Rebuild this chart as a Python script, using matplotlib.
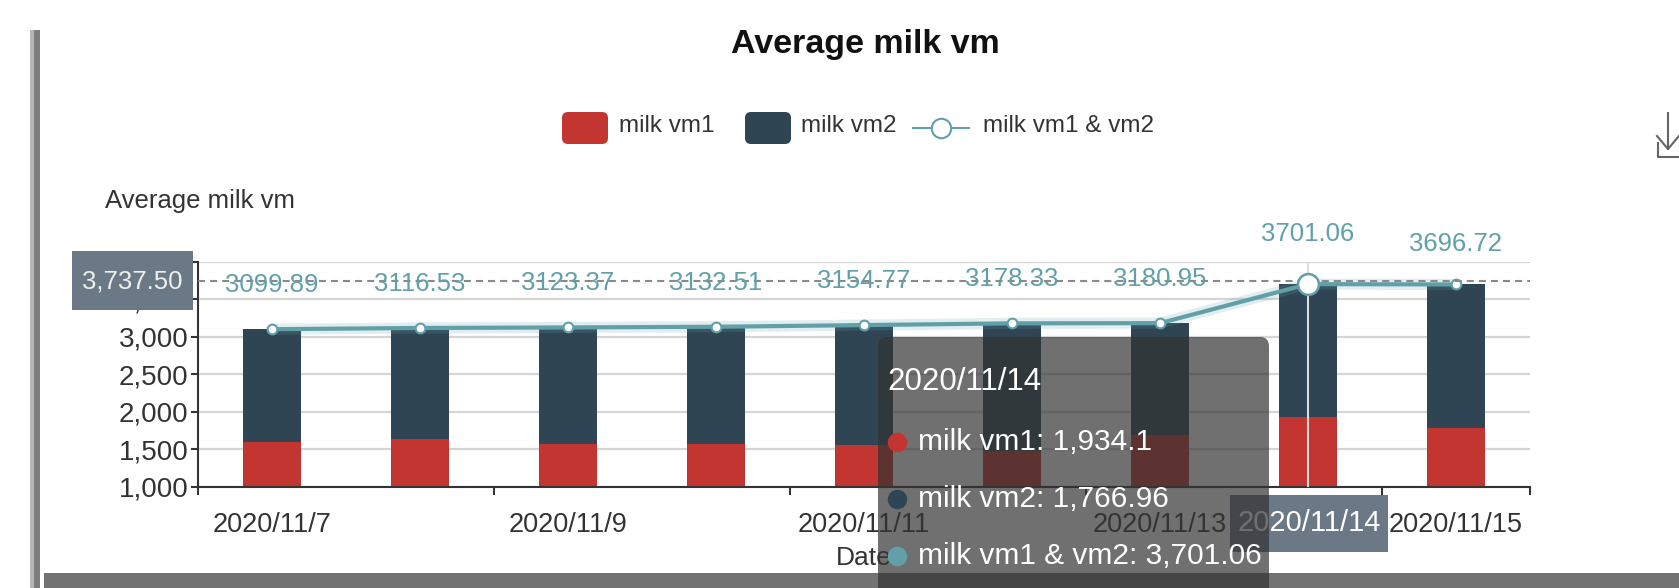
import matplotlib.pyplot as plt
from matplotlib.patches import Rectangle, FancyBboxPatch
import numpy as np

# ---- data ----
dates = ['2020/11/7', '2020/11/8', '2020/11/9', '2020/11/10', '2020/11/11',
         '2020/11/12', '2020/11/13', '2020/11/14', '2020/11/15']
vm1 = [1595.0, 1635.0, 1575.0, 1565.0, 1555.0, 1470.0, 1690.0, 1934.10, 1778.0]
vm2 = [1504.89, 1481.53, 1548.37, 1567.51, 1599.77, 1708.33, 1490.95, 1766.96, 1918.72]
total = [3099.89, 3116.53, 3123.37, 3132.51, 3154.77, 3178.33, 3180.95, 3701.06, 3696.72]
yticks = [1000, 1500, 2000, 2500, 3000, 3500, 4000]
hover_idx = 7          # 2020/11/14 is under the mouse
hover_y = 3737.50      # y value of the cross pointer

RED, DARK, TEAL = '#c23531', '#2f4554', '#61a0a8'
POINTER = '#6a7985'

plt.rcParams['font.family'] = ['Liberation Sans', 'DejaVu Sans']

W, H = 1679, 588
fig = plt.figure(figsize=(W / 100, H / 100), dpi=100)

# main plot area (pixel box 198..1530 x 262..487)
ax = fig.add_axes([198 / W, 1 - 486.7 / H, 1332 / W, 225 / H])
x = np.arange(len(dates))

ax.bar(x, vm1, width=0.39, color=RED, zorder=2)
ax.bar(x, vm2, bottom=vm1, width=0.39, color=DARK, zorder=2)

ax.plot(x, total, color=TEAL, lw=8, alpha=0.18, zorder=3, solid_capstyle='round')
ax.plot(x, total, color=TEAL, lw=3, marker='o', ms=7, mfc='white', mec=TEAL,
        mew=1.5, zorder=4)
ax.plot(x[hover_idx], total[hover_idx], marker='o', ms=15, mfc='white', mec=TEAL,
        mew=1.8, zorder=6)

for i, v in enumerate(total):
    off = 44
    if i == hover_idx:
        off = 50
    elif i == len(total) - 1:
        off = 40
    ax.annotate(f'{v:.2f}', (i, v), xytext=(0, off), textcoords='offset pixels',
                ha='center', va='center', color=TEAL, fontsize=18.5, zorder=7)

# cross pointer
ax.axhline(hover_y, color='#8a8a8a', lw=1.5, ls=(0, (3.4, 2.4)), zorder=5)
ax.axvline(x[hover_idx], color='#dcdcdc', lw=1.5, zorder=5)

ax.set_xlim(-0.5, len(dates) - 0.5)
ax.set_ylim(1000, 4000)
ax.set_yticks(yticks)
ax.set_yticklabels([f'{t:,}' for t in yticks], fontsize=20, color='#333333')
ax.yaxis.grid(True, color='#d5d5d5', lw=1.6)
ax.set_axisbelow(True)

ax.set_xticks([-0.5, 1.5, 3.5, 5.5, 7.5, 8.5])
ax.set_xticklabels([])
ax.set_xticks(x[::2], minor=True)
ax.set_xticklabels(dates[::2], minor=True, fontsize=19.5, color='#333333')
ax.tick_params(axis='x', which='minor', length=0, pad=18)
ax.tick_params(axis='x', which='major', length=6, width=1.5, color='#333333')
ax.tick_params(axis='y', length=5, width=1.5, color='#333333', pad=2)
for s in ['top', 'right']:
    ax.spines[s].set_visible(False)
for s in ['left', 'bottom']:
    ax.spines[s].set_color('#333333')
    ax.spines[s].set_linewidth(1.5)

# overlay in screen pixels for title, legend, tooltip and frame
ov = fig.add_axes([0, 0, 1, 1], zorder=5)
ov.set_xlim(0, W)
ov.set_ylim(H, 0)
ov.axis('off')
ov.patch.set_alpha(0)

ov.text(865, 45, 'Average milk vm', ha='center', va='center', fontsize=24.5,
        fontweight='bold', color='#111111')
ov.text(105, 201, 'Average milk vm', ha='left', va='center', fontsize=18.5,
        color='#333333')
ov.text(864, 558, 'Date', ha='center', va='center', fontsize=19, color='#333333')

# legend
ov.add_patch(FancyBboxPatch((562, 112), 46, 32, boxstyle='round,pad=0,rounding_size=6',
                            fc=RED, ec='none'))
ov.text(619, 126, 'milk vm1', ha='left', va='center', fontsize=17.5, color='#333333')
ov.add_patch(FancyBboxPatch((745, 112), 46, 32, boxstyle='round,pad=0,rounding_size=6',
                            fc=DARK, ec='none'))
ov.text(801, 126, 'milk vm2', ha='left', va='center', fontsize=17.5, color='#333333')
ov.plot([913, 969], [128, 128], color=TEAL, lw=1.5)
ov.plot([941], [128], marker='o', ms=14, mfc='white', mec=TEAL, mew=1.5)
ov.text(983, 126, 'milk vm1 & vm2', ha='left', va='center', fontsize=17.5, color='#333333')

# download icon
ov.plot([1668, 1668], [113, 149], color='#666666', lw=1.5)
ov.plot([1657, 1668, 1679], [136, 149, 136], color='#666666', lw=1.5)
ov.plot([1658, 1658, 1679], [143, 157, 157], color='#666666', lw=1.5)

# axis pointer labels
ov.add_patch(Rectangle((72, 251), 121, 59, fc=POINTER, ec='none', zorder=3))
ov.text(132, 281, f'{hover_y:,.2f}', ha='center', va='center', fontsize=18.5,
        color='#eeeeee', zorder=4)
ov.add_patch(Rectangle((1230, 495), 158, 57, fc=POINTER, ec='none', zorder=3))
ov.text(1309, 523, dates[hover_idx], ha='center', va='center', fontsize=21,
        color='#ffffff', zorder=4)

# screenshot frame
ov.add_patch(Rectangle((30, 30), 4, H - 30, fc='#b5b5b5', ec='none', zorder=3))
ov.add_patch(Rectangle((34, 30), 6, H - 30, fc='#7d7d7d', ec='none', zorder=3))
ov.add_patch(Rectangle((44, 573), W - 44, 15, fc='#727272', ec='none', zorder=3))

# tooltip
ov.add_patch(FancyBboxPatch((878, 337), 391, 270, boxstyle='round,pad=0,rounding_size=9',
                            fc=(0.2, 0.2, 0.2, 0.7), ec='none', zorder=8))
ov.text(887, 382, dates[hover_idx], ha='left', va='center', fontsize=22.5,
        color='#ffffff', zorder=9)
rows = [(RED, f'milk vm1: {vm1[hover_idx]:,}'),
        (DARK, f'milk vm2: {vm2[hover_idx]:,}'),
        (TEAL, f'milk vm1 & vm2: {total[hover_idx]:,}')]
for k, (c, txt) in enumerate(rows):
    yy = 442 + k * 57
    ov.plot([897], [yy], marker='o', ms=14, mfc=c, mec='none', zorder=9)
    ov.text(918, yy, txt, ha='left', va='center', fontsize=21.5, color='#ffffff', zorder=9)

fig.savefig('out.png', dpi=100)
